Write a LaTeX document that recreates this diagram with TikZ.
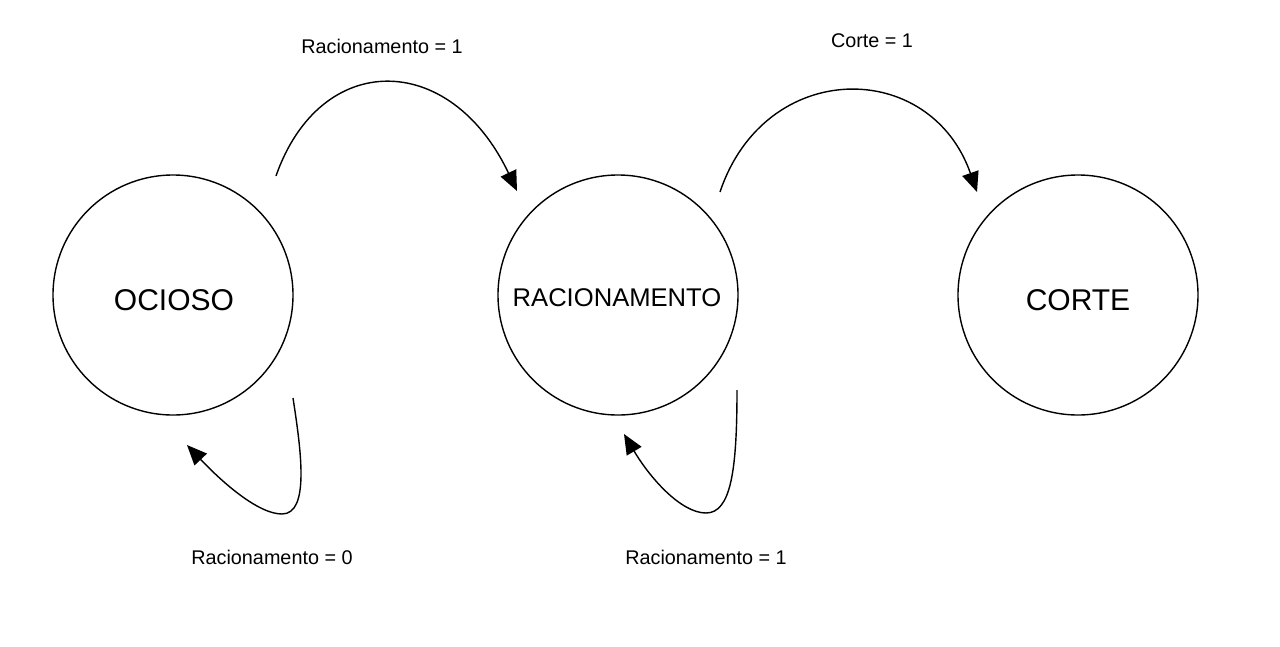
\documentclass[tikz,border=0pt]{standalone}
\usepackage{fontspec}
\setmainfont{Liberation Sans}
\usetikzlibrary{arrows.meta}
\begin{document}
\begin{tikzpicture}[x=1pt,y=-1pt,
  state/.style={circle,draw,line width=1.4pt,minimum size=240pt,inner sep=0pt},
  conn/.style={line width=1.4pt,-{Triangle[length=20pt,width=17pt]}},
  lbl/.style={font=\fontsize{19.8}{23}\selectfont}]
\useasboundingbox[fill=white] (0,0) rectangle (1280,646);
\node[state] (o) at (173,295) {};
\node[state] (r) at (618,295) {};
\node[state] (c) at (1078,295) {};
\node[font=\fontsize{30}{34}\selectfont] (ot) at (174,300) {OCIOSO};
\node[font=\fontsize{25.6}{30}\selectfont] (rt) at (617,298) {RACIONAMENTO};
\node[font=\fontsize{30}{34}\selectfont] (ct) at (1078,300) {CORTE};
\node[lbl] (l1) at (382,46) {Racionamento = 1};
\node[lbl] (l2) at (872,41) {Corte = 1};
\node[lbl] (l3) at (272,557) {Racionamento = 0};
\node[lbl] (l4) at (706,557) {Racionamento = 1};
\coordinate (a1s) at (276,176);
\coordinate (a1e) at (517,191);
\coordinate (a2s) at (720,192);
\coordinate (a2e) at (977,192);
\coordinate (b1s) at (293,398);
\coordinate (b1m) at (282,514);
\coordinate (b1e) at (187,445);
\coordinate (b2s) at (737,390);
\coordinate (b2m) at (706,513);
\coordinate (b2e) at (624,434);
\draw[conn] (a1s) .. controls (320,50) and (450,50) .. (a1e);
\draw[conn] (a2s) .. controls (765,58) and (930,58) .. (a2e);
\draw[conn] (b1s) .. controls (301,450) and (310,514) .. (b1m) .. controls (258,514) and (222,482) .. (b1e);
\draw[conn] (b2s) .. controls (737,470) and (731,513) .. (b2m) .. controls (681,513) and (650,478) .. (b2e);
\end{tikzpicture}
\end{document}
